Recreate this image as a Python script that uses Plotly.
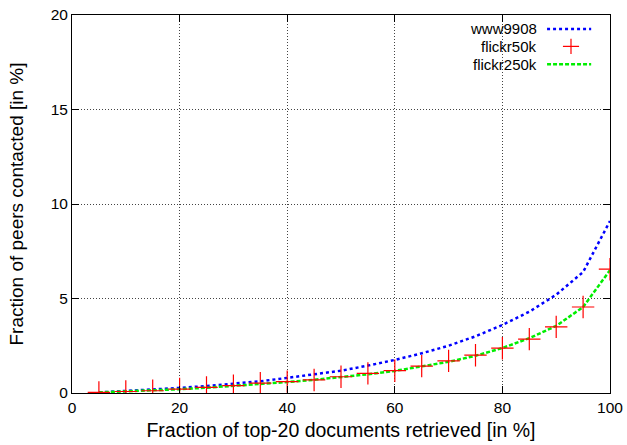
import plotly.graph_objects as go

x_vals = [5, 10, 15, 20, 25, 30, 35, 40, 45, 50, 55, 60, 65, 70, 75, 80, 85, 90, 95, 100]
www9908 = [0.03, 0.1, 0.18, 0.27, 0.37, 0.48, 0.62, 0.8, 0.98, 1.18, 1.45, 1.75, 2.1, 2.5, 3.0, 3.6, 4.3, 5.2, 6.4, 9.1]
flickr50k = [0.03, 0.08, 0.12, 0.21, 0.3, 0.39, 0.52, 0.6, 0.69, 0.86, 1.04, 1.18, 1.42, 1.7, 2.0, 2.37, 2.85, 3.5, 4.55, 6.55]
flickr250k = [0.03, 0.08, 0.13, 0.2, 0.28, 0.37, 0.47, 0.58, 0.7, 0.84, 0.99, 1.17, 1.39, 1.65, 1.97, 2.38, 2.9, 3.55, 4.55, 6.5]
series_names = ["www9908", "flickr50k", "flickr250k"]

FONT = "Liberation Sans, Arial, sans-serif"

fig = go.Figure()
fig.add_trace(go.Scatter(x=x_vals, y=www9908, mode="lines", name=series_names[0],
                         line=dict(color="#0000ff", width=2.5, dash="dot"), showlegend=False))
fig.add_trace(go.Scatter(x=x_vals, y=flickr250k, mode="lines", name=series_names[2],
                         line=dict(color="#00ee00", width=2.5, dash="4px,2px"), showlegend=False))
fig.add_trace(go.Scatter(x=x_vals, y=flickr50k, mode="markers", name=series_names[1],
                         marker=dict(symbol="cross-thin", size=16, color="#ff0000",
                                     line=dict(color="#ff0000", width=1.2)), showlegend=False))

axis_common = dict(showline=True, linecolor="black", linewidth=1, mirror="allticks",
                   ticks="inside", ticklen=7, tickcolor="black", automargin=False,
                   showgrid=True, gridcolor="#444444", griddash="1px,2px", gridwidth=1,
                   zeroline=False, tickfont=dict(family=FONT, size=15.5, color="black"))

fig.update_xaxes(range=[0, 100], dtick=20, **axis_common,
                 title=dict(text="Fraction of top-20 documents retrieved [in %]",
                            font=dict(family=FONT, size=19.5, color="black"), standoff=8))
fig.update_yaxes(range=[0, 20], dtick=5, **axis_common,
                 title=dict(text="Fraction of peers contacted [in %]",
                            font=dict(family=FONT, size=19, color="black"), standoff=22))

# gnuplot-style legend: text right-aligned, sample to the right
leg_y = [0.963, 0.917, 0.870]
for name, yy in zip(series_names, leg_y):
    fig.add_annotation(x=0.866, y=yy, xref="paper", yref="paper", text=name,
                       showarrow=False, xanchor="right", yanchor="middle", borderpad=0,
                       font=dict(family=FONT, size=15, color="black"))
fig.add_shape(type="line", xref="paper", yref="paper", x0=0.883, x1=0.965, y0=leg_y[0], y1=leg_y[0],
              line=dict(color="#0000ff", width=2.5, dash="dot"))
fig.add_shape(type="line", xref="paper", yref="paper", x0=0.883, x1=0.965, y0=leg_y[2], y1=leg_y[2],
              line=dict(color="#00ee00", width=2.5, dash="4px,2px"))
fig.add_shape(type="line", xref="paper", yref="paper", x0=0.9125, x1=0.9425, y0=leg_y[1], y1=leg_y[1],
              line=dict(color="#ff0000", width=1.2))
fig.add_shape(type="line", xref="paper", yref="paper", x0=0.9275, x1=0.9275, y0=leg_y[1] - 0.02, y1=leg_y[1] + 0.02,
              line=dict(color="#ff0000", width=1.2))

fig.update_layout(width=627, height=445, margin=dict(l=72, r=17, t=15, b=52),
                  plot_bgcolor="white", paper_bgcolor="white", showlegend=False,
                  font=dict(family=FONT, color="black"))

fig.write_html("out.html", config={"displayModeBar": False},
               post_script="document.body.style.margin='0';document.body.style.overflow='hidden';")
